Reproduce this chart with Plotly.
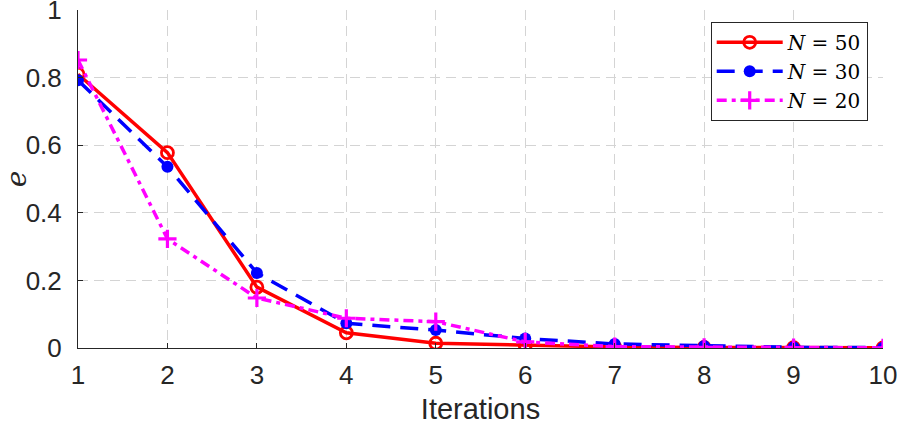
import plotly.graph_objects as go

iterations = [1, 2, 3, 4, 5, 6, 7, 8, 9, 10]
e_n50 = [0.810, 0.578, 0.180, 0.045, 0.014, 0.008, 0.003, 0.0015, 0.0008, 0.0004]
e_n30 = [0.792, 0.536, 0.222, 0.073, 0.053, 0.028, 0.012, 0.006, 0.002, 0.001]
e_n20 = [0.852, 0.323, 0.148, 0.088, 0.078, 0.018, 0.004, 0.002, 0.001, 0.0005]
x_ticks = [1, 2, 3, 4, 5, 6, 7, 8, 9, 10]
y_ticks = [0, 0.2, 0.4, 0.6, 0.8, 1]
y_tick_labels = ["0", "0.2", "0.4", "0.6", "0.8", "1"]

fig = go.Figure()
fig.add_trace(go.Scatter(
    x=iterations, y=e_n50, mode="lines+markers", name="<i>N</i> = 50",
    line=dict(color="#ff0000", width=3.5, dash="solid"),
    marker=dict(symbol="circle-open", size=12, color="#ff0000", line=dict(width=2.8, color="#ff0000")),
))
fig.add_trace(go.Scatter(
    x=iterations, y=e_n30, mode="lines+markers", name="<i>N</i> = 30",
    line=dict(color="#0000ff", width=3.5, dash="18px,10px"),
    marker=dict(symbol="circle", size=12, color="#0000ff"),
))
fig.add_trace(go.Scatter(
    x=iterations, y=e_n20, mode="lines+markers", name="<i>N</i> = 20",
    line=dict(color="#ff00ff", width=3.5, dash="10px,5px,4px,5px"),
    marker=dict(symbol="cross-thin", size=13, color="#ff00ff", line=dict(width=3.2, color="#ff00ff")),
))

sans = "Liberation Sans, Arial, sans-serif"
serif = "DejaVu Serif, Liberation Serif, serif"
axis_font = dict(family=sans, size=26, color="#262626")
fig.update_layout(
    width=897, height=425,
    margin=dict(l=78, r=14, t=10, b=77, autoexpand=False),
    paper_bgcolor="white", plot_bgcolor="white",
    showlegend=True,
    legend=dict(
        x=0.981, y=0.965, xanchor="right", yanchor="top",
        bgcolor="white", bordercolor="#262626", borderwidth=1,
        font=dict(family=serif, size=20, color="black"),
        tracegroupgap=0, itemwidth=66,
    ),
)
fig.update_xaxes(
    range=[1, 10], tickvals=x_ticks, ticktext=[str(v) for v in x_ticks],
    showline=True, linecolor="#262626", linewidth=1, mirror=False,
    ticks="inside", ticklen=5, tickcolor="#262626",
    showgrid=True, gridcolor="#d4d4d4", griddash="10px,6px", gridwidth=1,
    zeroline=False, tickfont=axis_font, ticklabelstandoff=4,
    ticklabeloverflow="allow", automargin=False,
    title=dict(text="Iterations", font=dict(family=sans, size=29, color="#262626"), standoff=10),
)
fig.update_yaxes(
    range=[0, 1], tickvals=y_ticks, ticktext=y_tick_labels,
    showline=True, linecolor="#262626", linewidth=1, mirror=False,
    ticks="inside", ticklen=5, tickcolor="#262626",
    showgrid=True, gridcolor="#d4d4d4", griddash="10px,6px", gridwidth=1,
    zeroline=False, tickfont=axis_font, ticklabelstandoff=10,
    ticklabeloverflow="allow", automargin=False,
    title=dict(text="<i>e</i>", font=dict(family=serif, size=28, color="#262626"), standoff=2),
)

fig.write_html(
    "out.html",
    config={"displayModeBar": False},
    post_script="document.body.style.margin='0';document.body.style.overflow='hidden';",
)
